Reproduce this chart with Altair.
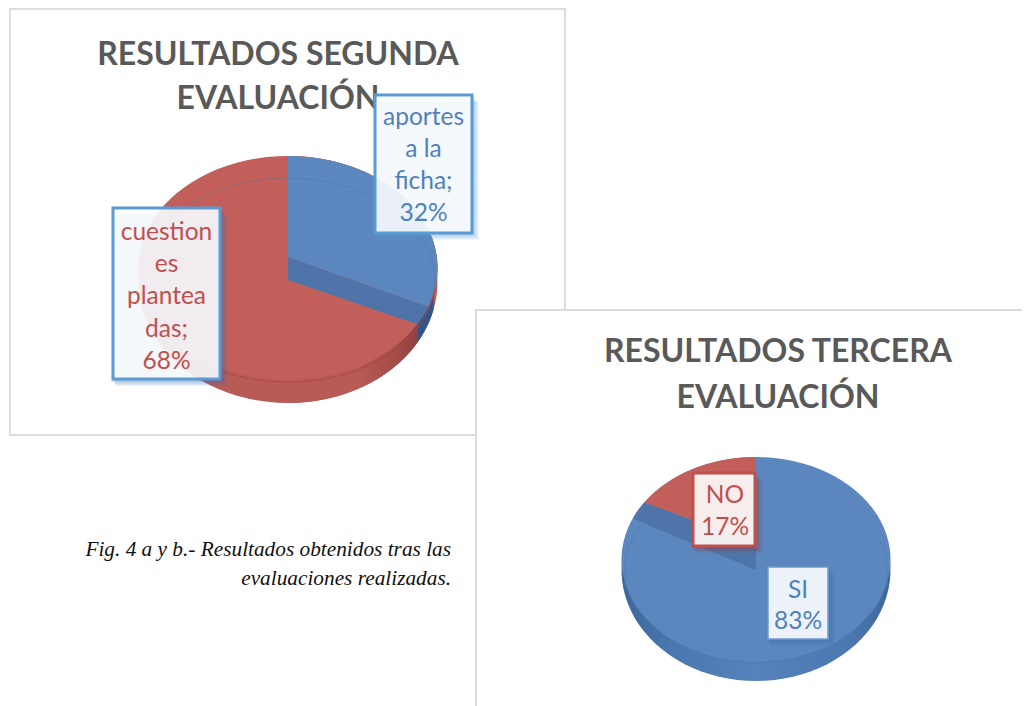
import math
import altair as alt
import pandas as pd

# ---- values
titles_a = ["RESULTADOS SEGUNDA", "EVALUACIÓN"]
titles_b = ["RESULTADOS TERCERA", "EVALUACIÓN"]
share_a = {"aportes a la ficha": 32, "cuestiones planteadas": 68}
share_b = {"SI": 83, "NO": 17}
labels_aportes = ["aportes", "a la", "ficha;", "32%"]
labels_cuestion = ["cuestion", "es", "plantea", "das;", "68%"]
labels_no = ["NO", "17%"]
labels_si = ["SI", "83%"]
caption = ["Fig. 4 a y b.- Resultados obtenidos tras las", "evaluaciones realizadas."]

BLUE, BLUE_DK, BLUE_TXT = "#5B87BE", "#4E74AA", "#4F81BD"
RED, RED_DK, RED_TXT = "#C25F5B", "#B85A56", "#C0504D"
FRAME = "#DCDCDC"
BOX_BLUE = "#5B9BD5"

X = alt.Scale(domain=[8, 1022], nice=False, zero=False)
Y = alt.Scale(domain=[706, 8], nice=False, zero=False)


def ell(e, t0, t1, n=90):
    cx, cy, a, b = e
    out = []
    for i in range(n + 1):
        t = math.radians(t0 + (t1 - t0) * i / n)
        out.append((cx + a * math.sin(t), cy - b * math.cos(t)))
    return out


def poly(pts, fill, opacity=1.0):
    df = pd.DataFrame(pts + [pts[0]], columns=["x", "y"]).assign(i=lambda d: range(len(d)))
    return alt.Chart(df).mark_line(fill=fill, stroke=None, fillOpacity=opacity, clip=False).encode(
        x=alt.X("x:Q", scale=X, axis=None), y=alt.Y("y:Q", scale=Y, axis=None), order="i:Q")


def path(pts, color, width=1.0, opacity=1.0):
    df = pd.DataFrame(pts, columns=["x", "y"]).assign(i=lambda d: range(len(d)))
    return alt.Chart(df).mark_line(color=color, strokeWidth=width, opacity=opacity).encode(
        x=alt.X("x:Q", scale=X, axis=None), y=alt.Y("y:Q", scale=Y, axis=None), order="i:Q")


def rect(x0, x1, y0, y1, fill="none", stroke=None, sw=0, opacity=1.0):
    df = pd.DataFrame({"x": [x0], "x2": [x1], "y": [y0], "y2": [y1]})
    kw = dict(fill=fill, fillOpacity=opacity)
    if stroke:
        kw.update(stroke=stroke, strokeWidth=sw)
    return alt.Chart(df).mark_rect(**kw).encode(
        x=alt.X("x:Q", scale=X, axis=None), x2="x2:Q",
        y=alt.Y("y:Q", scale=Y, axis=None), y2="y2:Q")


def text(lines, x, ys, color, size, font="Lato", weight="normal", style="normal", align="center", baseline="middle"):
    df = pd.DataFrame({"t": lines, "x": [x] * len(lines), "y": ys})
    return alt.Chart(df).mark_text(color=color, fontSize=size, font=font, fontWeight=weight,
                                   fontStyle=style, align=align, baseline=baseline).encode(
        x=alt.X("x:Q", scale=X, axis=None), y=alt.Y("y:Q", scale=Y, axis=None), text="t:N")


def shadow(x0, x1, y0, y1, color):
    return [rect(x0 + d, x1 + 4 + d, y0 + 4 + d, y1 + 4 + d, fill=color, opacity=0.09) for d in (3, 2, 1, 0, -1, -2)]


def grad(stops):
    return alt.Gradient(gradient="linear", x1=0, y1=0, x2=1, y2=0,
                        stops=[alt.GradientStop(offset=o, color=c) for o, c in stops])


layers = []

# ---- panel a
layers.append(rect(10, 565, 9, 435, fill="white", stroke=FRAME, sw=2))
layers.append(text(titles_a, 278, [54.5, 99], "#595959", 32, weight="bold"))

face_a = (288, 268, 149.5, 112)
side_a = (288, 282, 149.5, 121)
gap = 5
end_a = share_a["aportes a la ficha"] * 3.6
layers.append(poly(ell(side_a, 0, 360), RED_DK))
layers.append(poly(ell(face_a, 0, 360), RED))
layers.append(poly(ell(side_a, end_a - 12, end_a + gap) + ell(face_a, end_a + gap, end_a - 12), "#2F5688"))
layers.append(poly(ell(side_a, end_a + gap, 180) + ell(face_a, 180, end_a + gap),
                   grad([(0, RED_DK), (0.55, RED_DK), (0.85, "#A24B47"), (1, "#8F4240")])))
layers.append(poly(ell(face_a, 0, end_a + gap) + [(288, 280)], RED))
layers.append(poly([(288, 257)] + ell(face_a, end_a - gap, end_a + gap) + [(288, 280)], BLUE_DK))
layers.append(poly([(288, 257)] + ell(face_a, 0, end_a - gap), BLUE))
layers.append(path(ell((288, 280, 147, 102), 95, 265), "#A64743", 1.2, 0.7))
layers.append(path(ell((288, 280, 147, 102), -55, 95), "#496F9F", 1, 0.35))

# labels of pie a
layers += shadow(375, 472, 95, 233, "#5B9BD5")
layers.append(rect(375, 472, 95, 233, fill="white", opacity=0.87, stroke=BOX_BLUE, sw=3))
layers.append(text(labels_aportes, 423.5, [118, 150, 182, 214], BLUE_TXT, 24.5))
layers += shadow(113, 220, 208, 379, "#3B6FB0")
layers.append(rect(113, 220, 208, 379, fill="white", opacity=0.88, stroke=BOX_BLUE, sw=3))
layers.append(text(labels_cuestion, 166.5, [233, 265, 297, 330, 362], RED_TXT, 24.5))

# ---- caption
layers.append(text(caption, 451, [555.5, 585], "#111111", 21.3, font="Liberation Serif", style="italic",
                   align="right", baseline="alphabetic"))

# ---- panel b
layers.append(rect(476, 1040, 310, 716, fill="white", stroke=FRAME, sw=2))
layers.append(text(titles_b, 778, [352, 398], "#595959", 32, weight="bold"))

face_b = (756, 559.5, 134.5, 102.5)
side_b = (756, 570, 134.5, 111)
no = share_b["NO"] * 3.6
layers.append(poly(ell(side_b, 0, 360), grad([(0, "#3D679C"), (0.2, "#4B78B0"), (0.5, "#5582BA"), (0.85, "#4B78B0"), (1, "#3D679C")])))
layers.append(poly(ell(face_b, 0, 360), BLUE))
layers.append(path(ell((756, 570, 131, 92), 70, 300), "#4E78AE", 1, 0.55))
layers.append(poly(ell(face_b, 360 - no + gap, 360 - no - gap) + [(648, 525), (756, 570), (756, 543)], BLUE_DK))
layers.append(poly([(756, 543)] + ell(face_b, 360 - no + gap, 360), RED))

layers += shadow(693, 755, 473, 546, "#A03A36")
layers.append(rect(693, 755, 473, 546, fill="white", opacity=0.9, stroke=RED_TXT, sw=3))
layers.append(text(labels_no, 725, [496, 528], RED_TXT, 24.5))
layers += shadow(768, 828, 567, 639, "#3B6FB0")
layers.append(rect(768, 828, 567, 639, fill="white", opacity=0.9, stroke="#6F9BD0", sw=1.5))
layers.append(text(labels_si, 798, [591, 622], BLUE_TXT, 24.5))

chart = alt.layer(*layers).properties(
    width=1014, height=698, padding=0, autosize=alt.AutoSizeParams(type="none")
).configure_view(stroke=None)

chart.save("out.html", embed_options={"renderer": "svg", "actions": False})
